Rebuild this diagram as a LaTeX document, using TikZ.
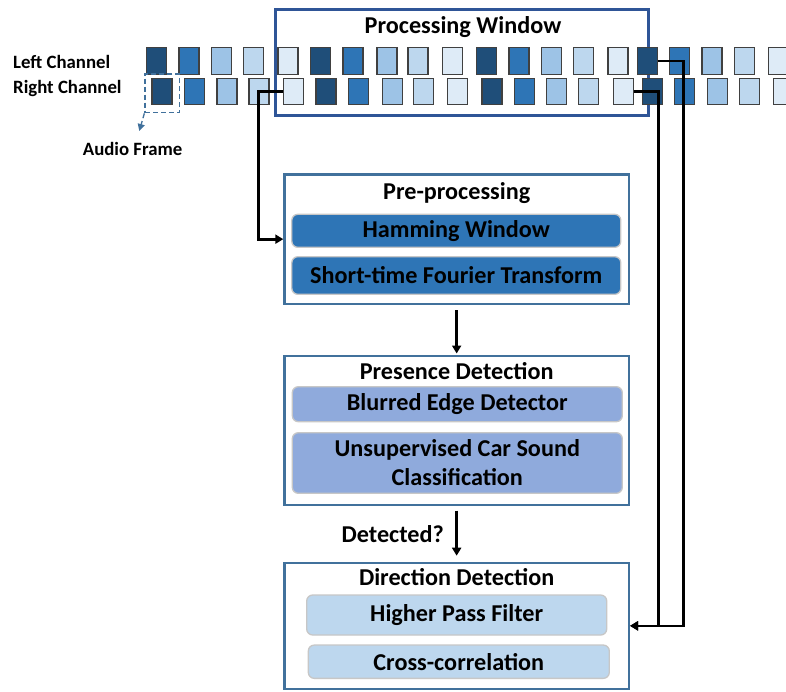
\documentclass[tikz,border=0pt]{standalone}
\usepackage{fontspec}
\setmainfont{Carlito}
\usetikzlibrary{arrows.meta,fit}

\definecolor{sq0}{HTML}{1F4E79}
\definecolor{sq1}{HTML}{2E75B6}
\definecolor{sq2}{HTML}{9DC3E6}
\definecolor{sq3}{HTML}{BDD7EE}
\definecolor{sq4}{HTML}{DEEBF7}

\begin{document}
\begin{tikzpicture}[x=1pt,y=-1pt,>={Triangle[length=8pt,width=9pt]}]

\def\rowL{60.9}
\def\rowR{91.4}
\def\shiftR{5.3}
\def\bigfont{\fontsize{24.2}{29}\selectfont\bfseries}
\def\smallfont{\fontsize{18.8}{22}\selectfont\bfseries}

% Colours
\definecolor{wincolor}{HTML}{2F5597}
\definecolor{stagecolor}{HTML}{41719C}
\definecolor{hamcolor}{HTML}{2E75B6}
\definecolor{presencecolor}{HTML}{8FAADC}
\definecolor{dircolor}{HTML}{BDD7EE}
\colorlet{subborder}{black!22}

% Styles
\tikzstyle{sq}=[draw=black!75, line width=1.3pt, minimum width=20pt, minimum height=26.5pt, inner sep=0pt]
\tikzstyle{winbox}=[draw=wincolor, line width=3pt, inner sep=0pt]
\tikzstyle{stagebox}=[draw=stagecolor, line width=2.2pt, inner sep=0pt]
\tikzstyle{subbox}=[draw=subborder, line width=1.3pt, rounded corners=6pt, inner sep=0pt, font=\bigfont, align=center]
\tikzstyle{title}=[inner sep=0pt, font=\bigfont]
\tikzstyle{label}=[inner sep=0pt, font=\smallfont]
\tikzstyle{conn}=[line width=2.7pt, ->]
\tikzstyle{framedash}=[draw=stagecolor, line width=1.3pt, dash pattern=on 5pt off 3pt]

% Background
\fill[white] (0,0) rectangle (786,691);
\useasboundingbox (0,0) rectangle (786,691);

% Processing window
\node[winbox, fit={(275.5,9.5) (648.5,115.5)}] (win) {};
\node[title, anchor=base] (wintitle) at (463,33.3) {Processing Window};

% Channels
\foreach \x [count=\i from 0] in {146.7,179,211.7,243.7,278,310.7,343,377,408,442.3,476.7,509,541.3,573.3,608,637.3,669.3,702,734.3,768.3} {
  \pgfmathtruncatemacro\c{mod(\i,5)}
  \node[sq, fill=sq\c] (L\i) at (\x+10,\rowL) {};
  \node[sq, fill=sq\c] (R\i) at (\x+10+\shiftR,\rowR) {};
}
\node[label, anchor=base west] (left) at (13,68.7) {Left Channel};
\node[label, anchor=base west] (right) at (13,93.3) {Right Channel};

% Audio frame
\node[framedash, inner sep=0pt, fit={(145,74) (179.3,112.7)}] (frame) {};
\node[label, anchor=base west] (framelabel) at (82.7,155.7) {Audio Frame};
\draw[framedash, -{Triangle[length=7pt,width=7pt]}] (frame.south west) -- (139.3,131);

% Pre-processing
\node[stagebox, fit={(284.4,174.4) (628.9,303.9)}] (pre) {};
\node[title, anchor=base] (pretitle) at (456.7,199) {Pre-processing};
\node[subbox, fill=hamcolor, minimum width=329pt, minimum height=33pt] (ham) at (456.3,230.8) {Hamming Window};
\node[subbox, fill=hamcolor, minimum width=329pt, minimum height=37.6pt] (stft) at (456.3,275.5) {Short-time Fourier Transform};

% Presence detection
\node[stagebox, fit={(284.4,356.1) (628.9,504.6)}] (pres) {};
\node[title, anchor=base] (prestitle) at (456.7,379) {Presence Detection};
\node[subbox, fill=presencecolor, minimum width=330pt, minimum height=35pt] (blur) at (457.3,404.2) {Blurred Edge Detector};
\node[subbox, fill=presencecolor, minimum width=330pt, minimum height=60.6pt] (unsup) at (457.3,463) {Unsupervised Car Sound\\Classification};

% Direction detection
\node[stagebox, fit={(284.4,562.8) (628.9,688.9)}] (dir) {};
\node[title, anchor=base] (dirtitle) at (456.7,585) {Direction Detection};
\node[subbox, fill=dircolor, minimum width=300pt, minimum height=40pt] (hpf) at (456.7,615) {Higher Pass Filter};
\node[subbox, fill=dircolor, minimum width=301pt, minimum height=33.3pt] (xcorr) at (458.8,661.7) {Cross-correlation};

% Connectors
\draw[conn] (R4.west) -- ++(-24,0) |- (pre.west);
\draw[conn] (L15.east) -- ++(25.5,0) |- (dir.east);
\draw[conn] (R14.east) -- ++(24.4,0) |- (dir.east);
\draw[conn, shorten <=5pt, shorten >=1.5pt] (pre) -- (pres);
\draw[conn, shorten <=5pt, shorten >=6pt] (pres) -- node[label, font=\bigfont, left=11.5pt] (detected) {Detected?} (dir);

\end{tikzpicture}
\end{document}
